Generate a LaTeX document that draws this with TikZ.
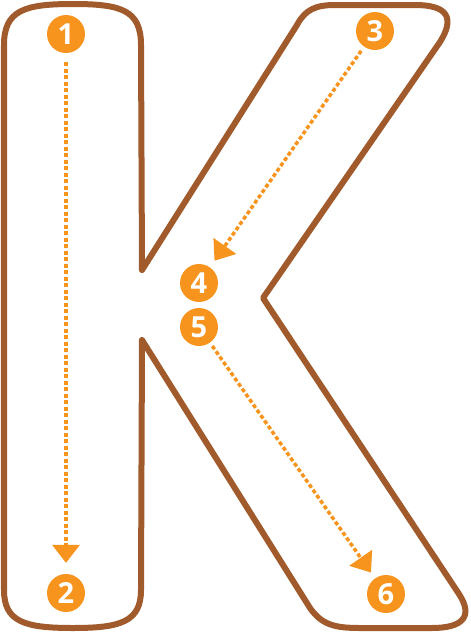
\documentclass[tikz,border=0pt]{standalone}
\usepackage{fontspec}
\setmainfont{Open Sans}
\usetikzlibrary{arrows.meta}
\definecolor{kbrown}{HTML}{A05A2C}
\definecolor{korange}{HTML}{F7941E}

\begin{document}
\begin{tikzpicture}[x=1pt, y=-1pt,
    outline/.style={draw=kbrown, line width=6pt, line join=round},
    numdot/.style={circle, fill=korange, minimum size=38pt, inner sep=0pt, text=white, font=\fontsize{29}{29}\selectfont\bfseries},
    strokepath/.style={draw=korange, line width=3.5pt, dash pattern=on 4pt off 2.5pt, -{Triangle[width=28pt, length=18pt, line width=0pt]}}]
    \useasboundingbox (0,0) rectangle (471,633);

    % Letter outline
    \draw[outline] (4,45) .. controls (4,10) and (25,4) .. (73,4)
        .. controls (121,4) and (141,10) .. (141,45)
        -- (142,270) -- (297,25)
        .. controls (305,10) and (315,5) .. (335,5)
        -- (415,5) .. controls (448,5) and (455,18) .. (440,42)
        -- (263,298) -- (459,594)
        .. controls (474,617) and (462,628) .. (432,628)
        -- (360,628) .. controls (335,628) and (322,625) .. (310,608)
        -- (142,340) -- (141,590)
        .. controls (141,622) and (120,628) .. (73,628)
        .. controls (25,628) and (4,622) .. (4,590) -- cycle;

    % Stroke numbers
    \node[numdot] (n1) at (66,34) {1};
    \node[numdot] (n2) at (66,593) {2};
    \node[numdot] (n3) at (375,31) {3};
    \node[numdot] (n4) at (199,283) {4};
    \node[numdot] (n5) at (199,327) {5};
    \node[numdot] (n6) at (386,594) {6};

    % Stroke directions
    \draw[strokepath, shorten <=9pt, shorten >=11pt] (n1) -- (n2);
    \draw[strokepath, shorten <=5pt, shorten >=8pt] (n3) -- (n4);
    \draw[strokepath, shorten <=4pt, shorten >=7pt] (n5) -- (n6);
\end{tikzpicture}
\end{document}
